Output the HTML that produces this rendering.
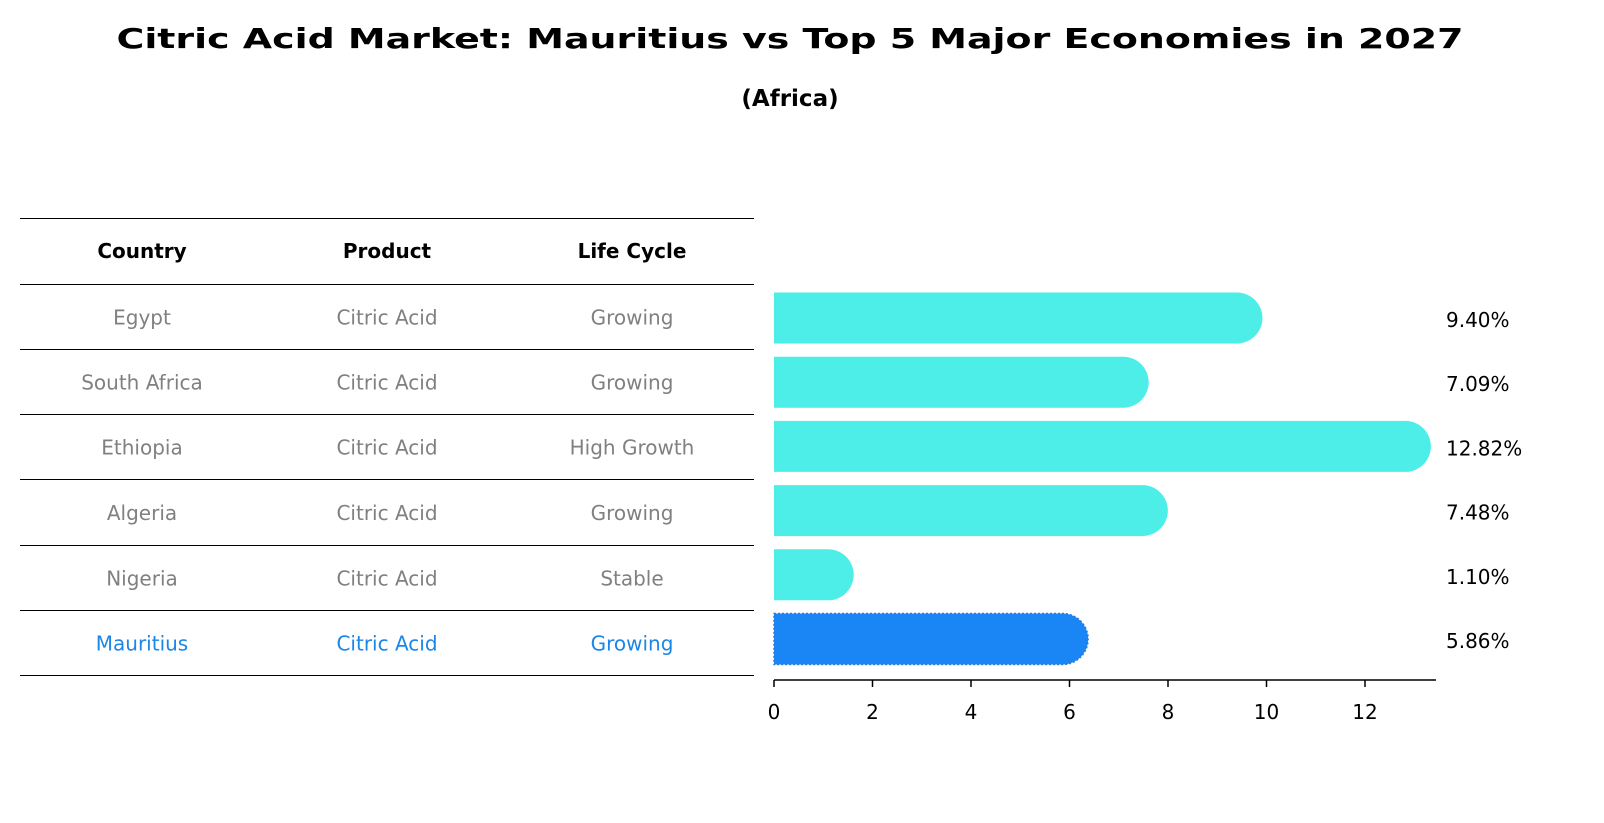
<!DOCTYPE html>
<html><head><meta charset="utf-8"><style>
body{margin:0;background:#fff;}
svg{display:block;font-family:"DejaVu Sans","Liberation Sans",sans-serif;}
</style></head><body>
<svg width="1604" height="823" viewBox="0 0 1604 823" xmlns="http://www.w3.org/2000/svg">
<text x="790" y="48" text-anchor="middle" font-size="28" font-weight="bold" textLength="1347" lengthAdjust="spacingAndGlyphs">Citric Acid Market: Mauritius vs Top 5 Major Economies in 2027</text>
<text x="790" y="106" text-anchor="middle" font-size="23" font-weight="bold">(Africa)</text>
<g id="table"></g>
<g id="bars"></g>
<g id="axis"></g>
</svg>
<script>
const countries=["Egypt","South Africa","Ethiopia","Algeria","Nigeria","Mauritius"];
const products=["Citric Acid","Citric Acid","Citric Acid","Citric Acid","Citric Acid","Citric Acid"];
const lifeCycles=["Growing","Growing","High Growth","Growing","Stable","Growing"];
const values=[9.40,7.09,12.82,7.48,1.10,5.86];
const ticks=[0,2,4,6,8,10,12];
const NS="http://www.w3.org/2000/svg";
function mk(t,a,p){const e=document.createElementNS(NS,t);for(const k in a)e.setAttribute(k,a[k]);p.appendChild(e);return e;}
const x=v=>774+v*49.25;
const rowY=i=>318+i*64.2;
const table=document.getElementById('table');
const lines=[218,284,349,414,479,545,610,675];
lines.forEach((ly,i)=>{const l=mk('line',{x1:20,x2:754,y1:ly+0.5,y2:ly+0.5,stroke:'#000','stroke-width':1},table);

});
const cols=[142,387,632];
["Country","Product","Life Cycle"].forEach((h,j)=>{const t=mk('text',{x:cols[j],y:258,'text-anchor':'middle','font-size':20,'font-weight':'bold'},table);t.textContent=h;

});
for(let i=0;i<countries.length;i++){
 const last=i===countries.length-1;
 [countries[i],products[i],lifeCycles[i]].forEach((s,j)=>{
  const t=mk('text',{x:cols[j],y:(lines[i+1]+lines[i+2])/2+8,'text-anchor':'middle','font-size':20,fill:last?'#1a86e8':'#808080'},table);t.textContent=s;
  
  
 });
}
const bars=document.getElementById('bars');
const h=51;
values.forEach((v,i)=>{
 const last=i===values.length-1;
 const c=last?'#1a86f5':'#4deee8';
 const cy=rowY(i);
 const g=mk('g',{},bars);
 
 
 mk('path',{d:`M${x(0)},${cy-h/2} L${x(v)},${cy-h/2} A${h/2},${h/2} 0 0 1 ${x(v)},${cy+h/2} L${x(0)},${cy+h/2} Z`,fill:c,stroke:last?'#2a7ad8':'none','stroke-dasharray':last?'2,2':'none','stroke-width':1.5},g);
 const t=mk('text',{x:1446,y:cy+9,'font-size':20},bars);t.textContent=v.toFixed(2)+'%';
 
 
});
const axis=document.getElementById('axis');
mk('line',{x1:774,x2:1436,y1:680,y2:680,stroke:'#000','stroke-width':1.5},axis);
ticks.forEach(tv=>{
 mk('line',{x1:x(tv),x2:x(tv),y1:680,y2:687,stroke:'#000','stroke-width':1.5},axis);
 const t=mk('text',{x:x(tv),y:719,'text-anchor':'middle','font-size':20},axis);t.textContent=tv;
 
 
});
</script>
</body></html>
